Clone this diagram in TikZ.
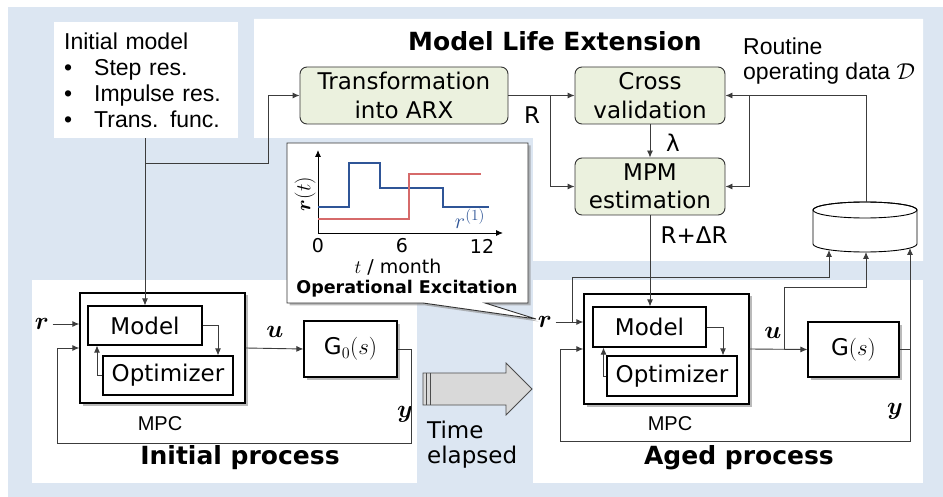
\RequirePackage{fix-cm}
\documentclass[tikz,border=0pt]{standalone}
\usepackage{fontspec}
\setmainfont{DejaVu Sans}
\newfontfamily\arialfont{Liberation Sans}
\usepackage{tikz}
\usetikzlibrary{arrows.meta, shadows}
\usepackage{amssymb}
\usepackage{bm}
\usepackage{xcolor}

\definecolor{panelblue}{RGB}{220,230,242}
\definecolor{stepgreen}{RGB}{235,241,222}
\definecolor{lineblue}{RGB}{47,85,151}
\definecolor{linered}{RGB}{214,106,106}
\definecolor{wire}{RGB}{60,60,60}

\tikzset{
  stepbox/.style={draw=black!80, fill=stepgreen, rounded corners=7pt, line width=0.9pt, align=center, inner sep=0pt, font=\fontsize{23}{28.5}\selectfont},
  block/.style={draw=black, fill=white, line width=1.1pt, inner sep=0pt},
  shadowed/.style={drop shadow={shadow xshift=2.5pt, shadow yshift=-2.5pt, fill=black!45, opacity=0.6}},
  flow/.style={draw=wire, line width=0.9pt, -{Latex[length=7pt,width=6pt]}},
  wireline/.style={draw=wire, line width=0.9pt},
  sig/.style={font=\fontsize{25}{25}\selectfont},
  heading/.style={font=\fontsize{25}{25}\selectfont\bfseries},
  small/.style={font=\fontsize{19}{19}\selectfont, inner sep=0pt},
}

\begin{document}
\begin{tikzpicture}[x=1pt, y=-1pt, font=\fontsize{23}{28}\selectfont]
\useasboundingbox (0,0) rectangle (943,497);

% panels
\fill[white] (0,0) rectangle (943,497);
\fill[panelblue] (8,7) rectangle (943,497);
\fill[white] (254,19) -- (923,19) -- (923,261) -- (533,261) -- (533,138) -- (254,138) -- cycle;
\fill[white] (32,280) rectangle (417,483);
\fill[white] (533,280) rectangle (923,483);

\node[fill=white, anchor=north west, minimum width=184pt, minimum height=116pt, text width=164pt, inner xsep=10pt, align=left, font=\arialfont\fontsize{23}{26}\selectfont] (init) at (54,22)
  {Initial model\\ \makebox[30pt][l]{\textbullet}Step res.\\ \makebox[30pt][l]{\textbullet}Impulse res.\\ \makebox[30pt][l]{\textbullet}Trans. func.};

% model life extension
\node[heading] (mle) at (555,41) {Model Life Extension};
\node[anchor=north west, align=left, inner sep=0pt, font=\arialfont\fontsize{23}{25}\selectfont] (routine) at (743,38) {Routine\\operating data $\mathcal{D}$};

\node[stepbox, minimum width=208pt, minimum height=57pt] (trans) at (404,95.5) {Transformation\\into ARX};
\node[stepbox, minimum width=150pt, minimum height=57pt] (cross) at (650,95.5) {Cross\\validation};
\node[stepbox, minimum width=150pt, minimum height=57pt] (mpm) at (650,186.5) {MPM\\estimation};

\node (rlab) at (532,115) {R};
\node (lamlab) at (673,143) {λ};
\node[anchor=west] (drlab) at (657,235) {R+ΔR};

% database
\draw[line width=0.9pt, fill=white] (813,210) -- (813,244) arc[start angle=180, end angle=0, x radius=52, y radius=8] -- (917,210) arc[start angle=0, end angle=-180, x radius=52, y radius=8] -- cycle;
\draw[line width=0.9pt] (865,210) ellipse [x radius=52, y radius=8];
\coordinate (dbtop) at (866,202);
\coordinate (db1) at (829,250);
\coordinate (db2) at (866,252);
\coordinate (db3) at (910,248);

\draw[flow] (trans.east) -- (cross.west);
\coordinate (rsplit) at (550,95.5);
\draw[flow] (rsplit) |- (mpm.west);
\draw[flow] (cross.south) -- (mpm.north);
\draw[flow] (dbtop) |- (cross.east);
\coordinate (dsplit) at (749,95.5);
\draw[flow] (dsplit) |- (mpm.east);

% operational excitation callout
\draw[line width=0.9pt, draw=black!80, fill=white, shadowed] (287,143) -- (528,143) -- (528,303) -- (485,303) -- (536,319) -- (423,303) -- (287,303) -- cycle;
\coordinate (orig) at (318,233);
\draw[flow, draw=black] (orig) -- (318,150);
\draw[flow, draw=black] (orig) -- (503,233);
\draw[lineblue, line width=1.6pt] (318,207) -- (349,207) -- (349,163) -- (380,163) -- (380,188) -- (443,188) -- (443,207) -- (489,207);
\draw[linered, line width=1.6pt] (318,219) -- (409,219) -- (409,174) -- (481,174);
\node[small] (t0) at (318,246) {0};
\node[small] (t6) at (402,246) {6};
\node[small] (t12) at (482,246) {12};
\node[small] (tlab) at (398,267) {$t$ / month};
\node[font=\fontsize{17.5}{17.5}\selectfont\bfseries, inner sep=0pt] (oplab) at (407,289) {Operational Excitation};
\node[small, rotate=90, font=\fontsize{21}{21}\selectfont] (rtlab) at (305,194) {$\bm{r}(t)$};
\node[small, font=\fontsize{22}{22}\selectfont] (r1lab) at (470,219) {\textcolor{lineblue}{$r^{(1)}$}};

% time elapsed
\draw[fill=black!15, draw=black!70, line width=0.8pt] (423,373) -- (506,373) -- (506,363) -- (532,389) -- (506,415) -- (506,405) -- (423,405) -- cycle;
\draw[black!70, line width=0.8pt] (426.5,373) -- (426.5,405) (430,373) -- (430,405);
\node[anchor=north west, align=left, inner sep=0pt, font=\fontsize{23}{25}\selectfont] (timelab) at (427,421) {Time\\elapsed};

% initial process
\node[block, shadowed, line width=1.4pt, minimum width=165pt, minimum height=110pt] (mpcA) at (162.5,348) {};
\node[block, minimum width=114pt, minimum height=39pt] (modelA) at (145,325.5) {Model};
\node[block, minimum width=130pt, minimum height=39pt] (optA) at (168,375.5) {Optimizer};
\node[block, shadowed, minimum width=93pt, minimum height=56pt] (gA) at (350.5,349) {G$_0(s)$};
\node[sig] (rA) at (42,324) {$\bm{r}$};
\node[sig] (uA) at (275,332) {$\bm{u}$};
\node[sig] (yA) at (405,414) {$\bm{y}$};
\node[font=\arialfont\fontsize{20}{20}\selectfont] (mpcAlab) at (160,424) {MPC};
\node[heading] (initproc) at (240,458) {Initial process};

\draw[flow] (rA) -- (rA -| mpcA.west);
\draw[flow] (gA.east) -- ++(14,0) |- (57,443) |- (mpcA.west);
\draw[flow] (mpcA.east) -- (gA.west);
\draw[flow] (modelA.east) -| ([xshift=50pt]optA.north);
\draw[flow] (optA.west) -| ([xshift=-48pt]modelA.south);
\draw[flow] (init.south -| modelA.north) -- (modelA.north);
\coordinate (split) at (145,163);
\draw[flow] (split) -| ([xshift=-31pt]trans.west) -- (trans.west);

% aged process
\node[block, shadowed, line width=1.4pt, minimum width=165pt, minimum height=110pt] (mpcB) at (666.5,349) {};
\node[block, minimum width=113pt, minimum height=40pt] (modelB) at (649.5,327) {Model};
\node[block, minimum width=130pt, minimum height=40pt] (optB) at (672,376) {Optimizer};
\node[block, shadowed, minimum width=91pt, minimum height=55pt] (gB) at (853.5,349.5) {G$(s)$};
\node[sig] (rB) at (545,322) {$\bm{r}$};
\node[sig] (uB) at (773,333) {$\bm{u}$};
\node[sig] (yB) at (895,411) {$\bm{y}$};
\node[font=\arialfont\fontsize{20}{20}\selectfont] (mpcBlab) at (670,424) {MPC};
\node[heading] (agedproc) at (739,458) {Aged process};

\draw[flow] (mpm.south) -- (mpm.south |- modelB.north);
\draw[flow] (rB) -- (rB -| mpcB.west);
\coordinate (rBsplit) at (572,322);
\draw[flow] (rBsplit) |- (829,277) -- (db1);
\coordinate (uBsplit) at (784,349);
\draw[flow] (uBsplit) |- (866,287) -- (db2);
\draw[flow] (mpcB.east) -- (gB.west);
\coordinate (yBsplit) at (910,349.5);
\draw[wireline] (gB.east) -- (yBsplit);
\draw[flow] (yBsplit) -- (db3);
\draw[flow] (yBsplit) |- (560,441) |- (mpcB.west);
\draw[flow] (modelB.east) -| ([xshift=51pt]optB.north);
\draw[flow] (optB.west) -| ([xshift=-46pt]modelB.south);
\end{tikzpicture}
\end{document}
